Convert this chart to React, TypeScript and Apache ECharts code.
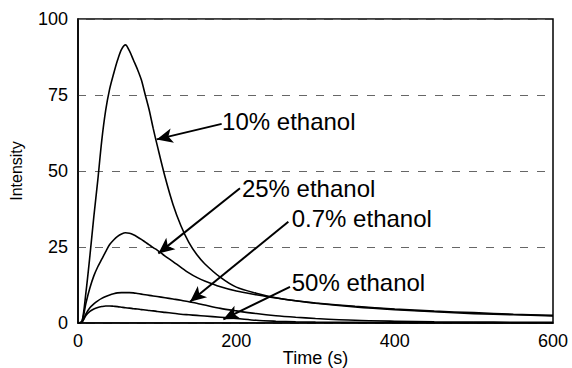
import React, { useEffect, useRef } from "react";
import * as echarts from "echarts";

const times = [0, 5, 10, 15, 20, 25, 30, 35, 40, 45, 50, 55, 60, 65, 70, 75, 80, 85, 90, 95, 100, 110, 120, 130, 140, 150, 160, 180, 200, 225, 250, 275, 300, 350, 400, 450, 500, 550, 600];

const ethanol10 = [0, 0.5, 10, 22, 35, 47, 60, 70, 77, 82, 86.5, 90, 91.5, 89.5, 86.5, 83.5, 80, 75, 70, 64, 58.5, 48, 39, 32, 26.5, 22.5, 19.5, 15, 11.8, 9.8, 8.3, 7.3, 6.6, 5.5, 4.6, 3.9, 3.4, 2.9, 2.5];
const ethanol25 = [0, 0.5, 6.5, 11.5, 15.5, 18.5, 21, 23.5, 25.8, 27.3, 28.5, 29.3, 29.7, 29.5, 29, 28.3, 27.5, 26.6, 25.7, 24.8, 24, 22, 20.2, 18.3, 16.5, 15, 13.8, 11.9, 10.5, 9.3, 8.2, 7.3, 6.5, 5.3, 4.4, 3.7, 3.1, 2.7, 2.3];
const ethanol07 = [0, 0.3, 3, 5, 6.3, 7.3, 8.1, 8.7, 9.2, 9.6, 9.9, 10, 10, 10, 9.9, 9.7, 9.5, 9.3, 9.1, 8.9, 8.7, 8.3, 7.9, 7.5, 7.0, 6.5, 5.9, 4.8, 4.0, 3.1, 2.4, 1.9, 1.5, 0.9, 0.6, 0.4, 0.3, 0.25, 0.2];
const ethanol50 = [0, 0.3, 2.5, 3.8, 4.6, 5.1, 5.4, 5.6, 5.6, 5.5, 5.4, 5.2, 5.0, 4.9, 4.7, 4.6, 4.4, 4.3, 4.1, 4.0, 3.8, 3.5, 3.2, 2.9, 2.7, 2.5, 2.3, 1.9, 1.5, 0.9, 0.6, 0.4, 0.3, 0.2, 0.1, 0.1, 0.05, 0.05, 0];

const seriesNames = ["10% ethanol", "25% ethanol", "0.7% ethanol", "50% ethanol"];
const seriesValues = [ethanol10, ethanol25, ethanol07, ethanol50];

// annotation anchors in data coordinates [time, intensity]
const arrowTails = [[181.5, 65.5], [204.6, 44.3], [265.7, 33.3], [267.8, 11.9]];
const arrowTips = [[99.4, 60.4], [101.5, 22.9], [141.5, 7], [183.6, 1.2]];
const labelAnchors = [[182, 66.4], [207, 44.4], [270, 34.5], [270, 13.2]];

const FONT = "'Liberation Sans', Arial, sans-serif";

export default function App() {
  const ref = useRef<HTMLDivElement>(null);
  useEffect(() => {
    if (!ref.current) return;
    const chart = echarts.init(ref.current, null, { renderer: "svg" });
    const series: any[] = seriesValues.map((vals, i) => ({
      name: seriesNames[i],
      type: "line",
      data: times.map((t, j) => [t, vals[j]]),
      showSymbol: false,
      smooth: 0.3,
      lineStyle: { color: "#000", width: 1.6 },
      z: 3,
      markLine: {
        silent: true,
        symbol: ["none", "arrow"],
        symbolSize: [11, 16],
        label: { show: false },
        lineStyle: { color: "#000", width: 2, type: "solid" },
        data: [[{ coord: arrowTails[i] }, { coord: arrowTips[i] }]],
        animation: false,
      },
    }));
    chart.setOption({
      animation: false,
      grid: {
        left: 78, right: 19, top: 19, bottom: 45,
        containLabel: false,
        outerBoundsMode: "none",
        show: true, borderColor: "#000", borderWidth: 1.5, backgroundColor: "transparent",
      },
      xAxis: {
        type: "value",
        min: 0,
        max: 600,
        interval: 200,
        name: "Time (s)",
        nameLocation: "middle",
        nameGap: 26,
        nameMoveOverlap: false,
        nameTextStyle: { fontFamily: FONT, fontSize: 18, color: "#000", verticalAlign: "top" },
        axisLine: { show: true, lineStyle: { color: "#000", width: 1.5 } },
        axisTick: { show: false },
        axisLabel: { fontFamily: FONT, fontSize: 18, color: "#000", margin: 9 },
        splitLine: { show: false },
      },
      yAxis: {
        type: "value",
        min: 0,
        max: 100,
        interval: 25,
        name: "Intensity",
        nameLocation: "middle",
        nameGap: 48,
        nameMoveOverlap: false,
        nameTextStyle: { fontFamily: FONT, fontSize: 16, color: "#000", padding: [0, 0, 6, 0] },
        axisLine: { show: true, lineStyle: { color: "#000", width: 1.5 } },
        axisTick: { show: false },
        axisLabel: { fontFamily: FONT, fontSize: 18, color: "#000", margin: 10 },
        splitLine: { show: true, lineStyle: { color: "#666", width: 1, type: [8, 9] } },
      },
      series,
    });
    const graphics = labelAnchors.map((a, i) => {
      const p = chart.convertToPixel({ gridIndex: 0 }, a) as number[];
      return {
        type: "text",
        x: p[0],
        y: p[1],
        z: 10,
        style: {
          text: seriesNames[i],
          fontFamily: FONT,
          fontSize: 24,
          fill: "#000",
          textAlign: "left",
          textVerticalAlign: "middle",
        },
      };
    });
    chart.setOption({ graphic: graphics });
    return () => chart.dispose();
  }, []);
  return <div ref={ref} style={{ position: "fixed", left: 0, top: 0, width: 572, height: 368, background: "#fff" }} />;
}
